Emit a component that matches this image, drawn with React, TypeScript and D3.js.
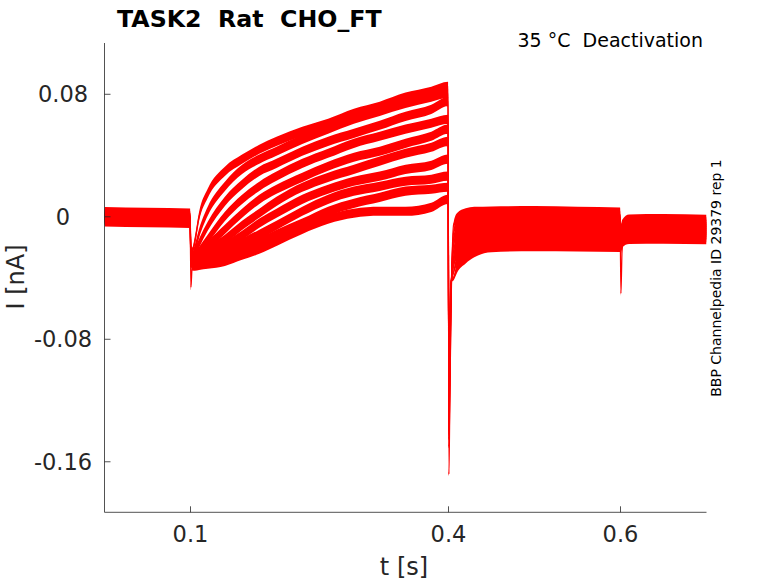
import React from 'react';
import * as d3 from 'd3';

// sample times (s)
const times = [0, 0.05, 0.0995, 0.1005, 0.102, 0.105, 0.11, 0.12, 0.14, 0.16, 0.18, 0.2, 0.23, 0.26, 0.29, 0.32, 0.35, 0.38, 0.3995,
  0.4005, 0.4015, 0.403, 0.406, 0.41, 0.42, 0.43, 0.45, 0.5, 0.55, 0.5995, 0.6005, 0.602, 0.61, 0.65, 0.7];

// half width of the recording noise band (nA) at each sample time
const noiseBand = [0.0034, 0.0034, 0.0034, 0.002, 0.002, 0.003, 0.003, 0.003, 0.003, 0.003, 0.003, 0.003, 0.003, 0.003, 0.003, 0.003, 0.003, 0.003, 0.003,
  0.001, 0.001, 0.001, 0.0015, 0.0035, 0.0045, 0.0045, 0.0045, 0.0045, 0.0045, 0.0045, 0.002, 0.002, 0.0038, 0.0038, 0.0038];

// current sweeps (nA)
const sweep1 = [0.003, 0.0025, 0.002, -0.020, -0.022, -0.016, 0.0003, 0.0153, 0.0297, 0.0376, 0.0441, 0.0493, 0.0558, 0.0611, 0.0676, 0.0722, 0.0781, 0.0820, 0.0852,
  -0.168, -0.125, -0.060, -0.005, -0.001, 0.001, 0.002, 0.0023, 0.0025, 0.002, 0.0015, -0.008, -0.004, -0.0023, -0.002, -0.0025];
const sweep2 = [0.0015, 0.001, 0.0005, -0.023, -0.025, -0.0212, -0.0108, 0.0036, 0.0199, 0.0310, 0.0376, 0.0428, 0.0506, 0.0572, 0.0637, 0.0689, 0.0741, 0.0781, 0.0807,
  -0.150, -0.12, -0.055, -0.010, -0.004, -0.001, 0.0, 0.0, 0.0005, 0.0, -0.0005, -0.010, -0.006, -0.0036, -0.0035, -0.0038];
const sweep3 = [0.0, -0.0005, -0.001, -0.025, -0.027, -0.0238, -0.0173, -0.0062, 0.0101, 0.0212, 0.0297, 0.0349, 0.0428, 0.0493, 0.0545, 0.0598, 0.0656, 0.0702, 0.0754,
  -0.145, -0.11, -0.05, -0.014, -0.008, -0.004, -0.003, -0.0023, -0.002, -0.0025, -0.003, -0.012, -0.008, -0.0049, -0.0048, -0.005];
const sweep4 = [0.002, 0.0015, 0.0, -0.026, -0.028, -0.0258, -0.0225, -0.0147, 0.0003, 0.0114, 0.0199, 0.0265, 0.0349, 0.0415, 0.0480, 0.0526, 0.0572, 0.0611, 0.0637,
  -0.142, -0.10, -0.05, -0.018, -0.011, -0.007, -0.005, -0.0046, -0.0042, -0.0045, -0.005, -0.014, -0.010, -0.0062, -0.006, -0.0063];
const sweep5 = [-0.002, -0.0025, -0.003, -0.027, -0.029, -0.0278, -0.0258, -0.0193, -0.0082, 0.0023, 0.0114, 0.0180, 0.0258, 0.0330, 0.0389, 0.0428, 0.0480, 0.0526, 0.0572,
  -0.14, -0.095, -0.048, -0.022, -0.015, -0.010, -0.008, -0.0069, -0.0065, -0.0068, -0.007, -0.050, -0.020, -0.0075, -0.0073, -0.0076];
const sweep6 = [-0.001, -0.0015, -0.002, -0.028, -0.030, -0.0291, -0.0278, -0.0225, -0.0147, -0.0056, 0.0023, 0.0101, 0.0193, 0.0258, 0.0310, 0.0363, 0.0415, 0.0454, 0.0493,
  -0.138, -0.09, -0.046, -0.026, -0.018, -0.013, -0.010, -0.0091, -0.0088, -0.009, -0.0093, -0.016, -0.012, -0.0088, -0.0086, -0.0089];
const sweep7 = [0.001, 0.0, -0.0015, -0.029, -0.031, -0.0304, -0.0291, -0.0265, -0.0193, -0.0121, -0.0042, 0.0023, 0.0114, 0.0180, 0.0232, 0.0265, 0.0310, 0.0336, 0.0376,
  -0.135, -0.085, -0.045, -0.029, -0.021, -0.016, -0.013, -0.0114, -0.011, -0.0113, -0.0115, -0.018, -0.013, -0.0101, -0.0099, -0.0102];
const sweep8 = [-0.003, -0.0035, -0.004, -0.030, -0.031, -0.0304, -0.0304, -0.0278, -0.0238, -0.0173, -0.0114, -0.0056, 0.0036, 0.0114, 0.0167, 0.0199, 0.0232, 0.0245, 0.0265,
  -0.13, -0.08, -0.044, -0.032, -0.024, -0.019, -0.016, -0.0137, -0.0133, -0.0135, -0.0138, -0.019, -0.015, -0.0114, -0.0112, -0.0115];
const sweep9 = [-0.0005, -0.001, -0.0025, -0.031, -0.032, -0.0317, -0.0310, -0.0304, -0.0265, -0.0219, -0.0167, -0.0114, -0.0042, 0.0036, 0.0088, 0.0127, 0.0167, 0.0180, 0.0193,
  -0.128, -0.075, -0.043, -0.036, -0.028, -0.022, -0.018, -0.016, -0.0155, -0.0158, -0.016, -0.020, -0.016, -0.0127, -0.0125, -0.0128];
const sweep10 = [-0.0015, -0.002, -0.0035, -0.046, -0.033, -0.0323, -0.0317, -0.0310, -0.0291, -0.0251, -0.0212, -0.0160, -0.0082, -0.0016, 0.0023, 0.0036, 0.0036, 0.0062, 0.0114,
  -0.125, -0.07, -0.042, -0.040, -0.033, -0.026, -0.022, -0.0186, -0.018, -0.0182, -0.0185, -0.022, -0.018, -0.0140, -0.0138, -0.0141];

const sweeps = [sweep1, sweep2, sweep3, sweep4, sweep5, sweep6, sweep7, sweep8, sweep9, sweep10];

const xTicks = [0.1, 0.4, 0.6];
const xTickLabels = ['0.1', '0.4', '0.6'];
const yTicks = [0.08, 0, -0.08, -0.16];
const yTickLabels = ['0.08', '0', '-0.08', '-0.16'];

const title = 'TASK2\u00a0\u00a0Rat\u00a0\u00a0CHO_FT';
const subtitle = '35 °C\u00a0\u00a0Deactivation';
const sideNote = 'BBP Channelpedia ID 29379 rep 1';
const xLabel = 't [s]';
const yLabel = 'I [nA]';

export default function App() {
  const W = 778, H = 583;
  const L = 104.5, R = 706.5, T = 43, B = 512.3;
  const x = d3.scaleLinear().domain([0, 0.7]).range([L, R]);
  const y = d3.scaleLinear().domain([-0.193, 0.1135]).range([B, T]);
  const font = '"DejaVu Sans", sans-serif';
  const ink = '#262626';

  const band = d3.area<number>()
    .x((_, i) => x(times[i]))
    .y0((v, i) => y(v - noiseBand[i]))
    .y1((v, i) => y(v + noiseBand[i]))
    .curve(d3.curveMonotoneX);
  const line = d3.line<number>()
    .x((_, i) => x(times[i]))
    .y((v) => y(v))
    .curve(d3.curveMonotoneX);

  return (
    <svg width={W} height={H} style={{ position: 'absolute', left: 0, top: 0, background: '#fff' }}>
      <defs>
        <clipPath id="plot">
          <rect x={L} y={T} width={R - L} height={B - T} />
        </clipPath>
      </defs>
      <g clipPath="url(#plot)">
        {sweeps.map((s, k) => (
          <g key={k}>
            <path d={band(s) || ''} fill="#ff0000" stroke="none" />
            <path d={line(s) || ''} fill="none" stroke="#ff0000" strokeWidth={1.2} />
          </g>
        ))}
      </g>
      {/* axes */}
      <line x1={L} x2={L} y1={T} y2={B} stroke={ink} strokeWidth={0.8} />
      <line x1={L} x2={R} y1={B} y2={B} stroke={ink} strokeWidth={0.8} />
      {yTicks.map((t, i) => (
        <g key={'y' + i}>
          <line x1={L} x2={L + 6} y1={y(t)} y2={y(t)} stroke={ink} strokeWidth={0.8} />
          <text x={63} y={y(t)} dy="0.36em" textAnchor="middle" fontFamily={font} fontSize={22.5} fill={ink}>{yTickLabels[i]}</text>
        </g>
      ))}
      {xTicks.map((t, i) => (
        <g key={'x' + i}>
          <line x1={x(t)} x2={x(t)} y1={B} y2={B - 6} stroke={ink} strokeWidth={0.8} />
          <text x={x(t)} y={542} textAnchor="middle" fontFamily={font} fontSize={22.5} fill={ink}>{xTickLabels[i]}</text>
        </g>
      ))}
      <text x={404} y={575} textAnchor="middle" fontFamily={font} fontSize={24} fill={ink}>{xLabel}</text>
      <text transform="translate(24,277) rotate(-90)" textAnchor="middle" fontFamily={font} fontSize={24} fill={ink}>{yLabel}</text>
      <text x={117} y={27} fontFamily={font} fontSize={23.7} fontWeight="bold" fill="#000">{title}</text>
      <text x={703} y={47} textAnchor="end" fontFamily={font} fontSize={19} fill="#000">{subtitle}</text>
      <text transform="translate(721,278) rotate(-90)" textAnchor="middle" fontFamily={font} fontSize={14} fill="#000">{sideNote}</text>
    </svg>
  );
}
